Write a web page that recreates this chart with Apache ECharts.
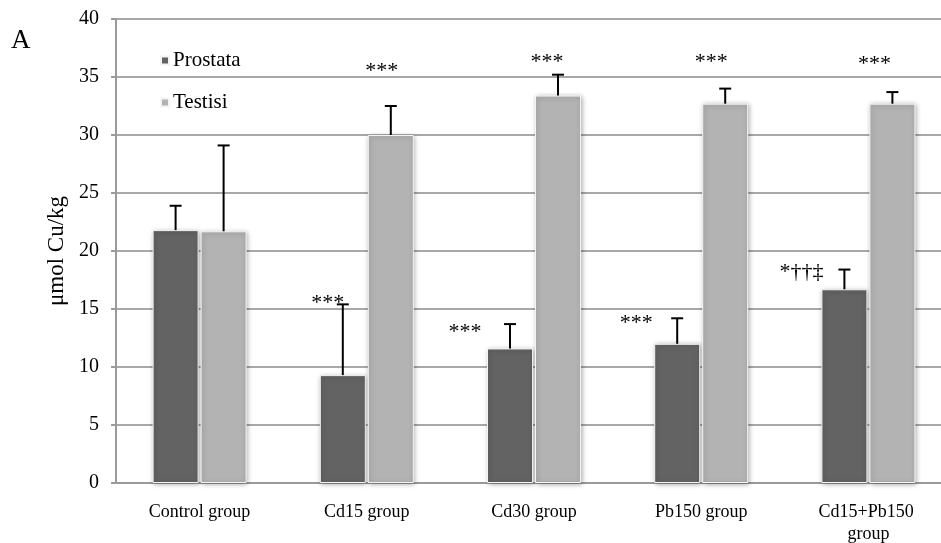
<!DOCTYPE html>
<html><head><meta charset="utf-8">
<script src="https://cdn.jsdelivr.net/npm/echarts@6/dist/echarts.min.js"></script>
<style>html,body{margin:0;padding:0;background:#fff;overflow:hidden}#c{width:941px;height:543px}</style>
</head><body><div id="c"></div>
<script>
var categories = ['Control group', 'Cd15 group', 'Cd30 group', 'Pb150 group', 'Cd15+Pb150 group'];
var seriesNames = ['Prostata', 'Testisi'];
var prostata = [21.8, 9.3, 11.6, 12.0, 16.7];
var prostataErr = [2.1, 6.1, 2.1, 2.2, 1.7];
var testisi = [21.7, 30.0, 33.4, 32.7, 32.7];
var testisiErr = [7.4, 2.5, 1.8, 1.3, 1.0];
var yTicks = [0, 5, 10, 15, 20, 25, 30, 35, 40];
// significance annotations: [category index, series index, text, value anchor]
var annotCat = [1, 2, 3, 4, 1, 2, 3, 4];
var annotSeries = [1, 1, 1, 1, 0, 0, 0, 0];
var annotText = ['***', '***', '***', '***', '***', '***', '***', '*\u2020\u2020\u2021'];
var annotValue = [35.95, 36.7, 36.7, 36.5, 15.9, 13.4, 14.2, 18.6];

var FONT = '"Liberation Serif", "Times New Roman", serif';
var BAR_W = 46, BAR_GAP = 2;
var seriesOffset = [-(BAR_W + BAR_GAP) / 2, (BAR_W + BAR_GAP) / 2];
// pixel x-offsets of annotation centers relative to their bar center (layout only)
var annotDx = [-9, -11, -14, -18, -15, -45, -41, -43];

var chart = echarts.init(document.getElementById('c'));

function errSeries(vals, errs, si) {
  return {
    type: 'custom', z: 5, silent: true,
    data: vals.map(function (v, i) { return [i, v, errs[i]]; }),
    encode: { x: 0, y: 1 },
    renderItem: function (params, api) {
      var i = api.value(0), v = api.value(1), e = api.value(2);
      var p0 = api.coord([i, v]);
      var p1 = api.coord([i, v + e]);
      var x = p0[0] + seriesOffset[si];
      var st = { stroke: '#000', lineWidth: 2 };
      return { type: 'group', children: [
        { type: 'line', shape: { x1: x, y1: p0[1], x2: x, y2: p1[1] }, style: st },
        { type: 'line', shape: { x1: x - 6, y1: p1[1], x2: x + 6, y2: p1[1] }, style: st }
      ] };
    }
  };
}

var annotData = annotCat.map(function (c, k) { return [c, annotValue[k], k]; });

chart.setOption({
  animation: false,
  textStyle: { fontFamily: FONT },
  title: { text: 'A', left: 6, top: 22, textStyle: { fontFamily: FONT, fontSize: 27, fontWeight: 'normal', color: '#000' } },
  legend: {
    data: seriesNames, orient: 'vertical', left: 160, top: 50, itemGap: 21, padding: 0,
    icon: 'rect', itemWidth: 8, itemHeight: 8,
    textStyle: { fontFamily: FONT, fontSize: 21, color: '#000', padding: [0, 0, 0, -1] }
  },
  grid: { left: 116, right: -11, top: 19, bottom: 60, containLabel: false, outerBoundsMode: 'none' },
  xAxis: {
    type: 'category', data: categories,
    axisLine: { lineStyle: { color: '#9a9a9a', width: 2 } },
    axisTick: { show: false },
    axisLabel: { interval: 0, fontFamily: FONT, fontSize: 18, color: '#000', margin: 18, width: 112, overflow: 'break', lineHeight: 22 }
  },
  yAxis: {
    type: 'value', min: yTicks[0], max: yTicks[yTicks.length - 1], interval: yTicks[1] - yTicks[0],
    name: 'μmol Cu/kg', nameLocation: 'middle', nameGap: 48,
    nameTextStyle: { fontFamily: FONT, fontSize: 23, color: '#000' },
    axisLine: { show: true, lineStyle: { color: '#9a9a9a', width: 2 } },
    axisTick: { show: true, length: 5, lineStyle: { color: '#9a9a9a', width: 2 } },
    axisLabel: { fontFamily: FONT, fontSize: 20, color: '#000', margin: 17 },
    splitLine: { lineStyle: { color: '#a8a8a8', width: 2 } }
  },
  series: [
    { name: seriesNames[0], type: 'bar', data: prostata, barWidth: BAR_W, barGap: (BAR_GAP / BAR_W * 100) + '%',
      itemStyle: { color: '#636363', borderColor: '#f4f4f4', borderWidth: 1, shadowBlur: 5, shadowColor: 'rgba(0,0,0,0.35)', shadowOffsetX: 1, shadowOffsetY: 1 } },
    { name: seriesNames[1], type: 'bar', data: testisi, barWidth: BAR_W,
      itemStyle: { color: '#b3b3b3', borderColor: '#f4f4f4', borderWidth: 1, shadowBlur: 5, shadowColor: 'rgba(0,0,0,0.35)', shadowOffsetX: 1, shadowOffsetY: 1 } },
    errSeries(prostata, prostataErr, 0),
    errSeries(testisi, testisiErr, 1),
    {
      type: 'custom', z: 6, silent: true, data: annotData, encode: { x: 0, y: 1 },
      renderItem: function (params, api) {
        var c = api.value(0), v = api.value(1), k = api.value(2);
        var p = api.coord([c, v]);
        return { type: 'text', style: {
          text: annotText[k], x: p[0] + seriesOffset[annotSeries[k]] + annotDx[k], y: p[1] + 5,
          align: 'center', verticalAlign: 'middle', fill: '#000', font: '22px ' + FONT
        } };
      }
    }
  ]
});
</script></body></html>
